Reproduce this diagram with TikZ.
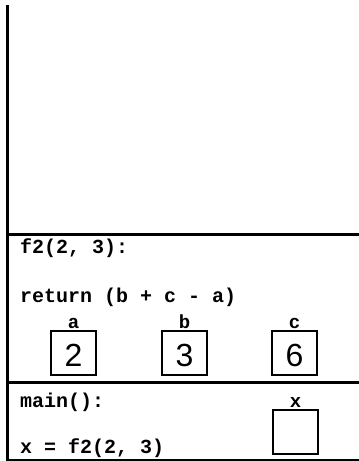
\documentclass[tikz,border=0pt]{standalone}
\usepackage{fontspec}
\setmonofont{Liberation Mono}
\setsansfont{Liberation Sans}
\begin{document}
\begin{tikzpicture}[x=1pt,y=-1pt,
  code/.style={anchor=base west,inner sep=0pt,font=\ttfamily\bfseries\fontsize{20}{24}\selectfont},
  varname/.style={anchor=base,inner sep=0pt,font=\ttfamily\bfseries\fontsize{19}{22}\selectfont},
  valbox/.style={draw,line width=2pt,minimum width=45pt,minimum height=44pt,inner sep=0pt},
  valnum/.style={anchor=base,inner sep=0pt,font=\sffamily\fontsize{32}{36}\selectfont},
  frameline/.style={line width=3pt},
  thinline/.style={line width=1.5pt}]
\useasboundingbox (0,0) rectangle (359,461);
% frame lines
\coordinate (vt) at (7.5,5);
\coordinate (vb) at (7.5,461);
\coordinate (h1l) at (6,234.5);
\coordinate (h1r) at (359,234.5);
\coordinate (h2l) at (6,382.5);
\coordinate (h2r) at (359,382.5);
\coordinate (h3l) at (6,460);
\coordinate (h3r) at (359,460);
\draw[frameline] (vt) -- (vb);
\draw[frameline] (h1l) -- (h1r);
\draw[frameline] (h2l) -- (h2r);
\draw[thinline] (h3l) -- (h3r);
% f2 frame
\node[code] (f2) at (20,253) {f2(2, 3):};
\node[code] (ret) at (20,302) {return (b + c - a)};
\node[valbox] (boxa) at (73.5,353) {};
\node[valbox] (boxb) at (184.5,353) {};
\node[valbox] (boxc) at (294.5,353) {};
\node[varname] (la) at (73.5,328) {a};
\node[varname] (lb) at (184.5,328) {b};
\node[varname] (lc) at (294.5,328) {c};
\node[valnum] (na) at (73.5,366.5) {2};
\node[valnum] (nb) at (184.5,366.5) {3};
\node[valnum] (nc) at (294.5,366.5) {6};
% main frame
\node[code] (mainf) at (20,407) {main():};
\node[code] (assign) at (20,453) {x = f2(2, 3)};
\node[valbox] (boxx) at (295.5,431.5) {};
\node[varname] (lx) at (295.5,407) {x};
\end{tikzpicture}
\end{document}
